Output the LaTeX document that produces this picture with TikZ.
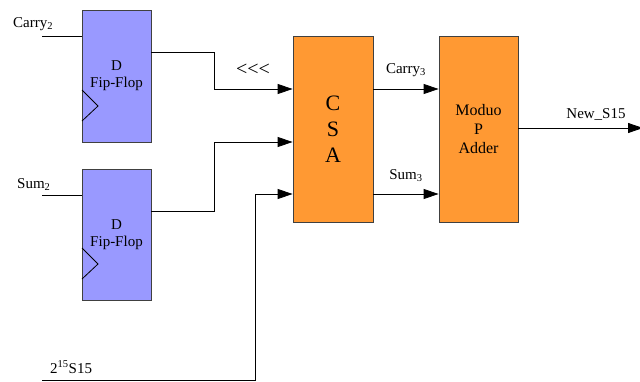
\documentclass[tikz,border=0pt]{standalone}
\usepackage{fontspec}
\setmainfont{Liberation Serif}
\usetikzlibrary{arrows.meta}

\begin{document}
\begin{tikzpicture}[
    x=1pt, y=-1pt,
    wire/.style={thick},
    sig/.style={thick, -{Triangle[length=15pt, width=10pt]}},
    dff/.style={draw=black!75, thick, fill=blue!40, minimum width=69pt, inner sep=0pt,
                font=\fontsize{15}{17}\selectfont, align=center},
    unit/.style={draw=black!75, thick, fill=orange!80, minimum width=80pt, minimum height=186pt,
                 inner sep=0pt, align=center},
    label/.style={font=\fontsize{15}{17}\selectfont, inner sep=0pt}
]
    \useasboundingbox (0,0) rectangle (640,381);

    % Flip-flops
    \node[dff, minimum height=132pt] (ff1) at (116.5,76) {D\\Fip-Flop};
    \node[dff, minimum height=131pt] (ff2) at (116.5,234.5) {D\\Fip-Flop};

    % Clock marks
    \draw[thick] (82,90) -- (98,106) -- (82,121);
    \draw[thick] (82,248) -- (98,264) -- (82,279);

    % Adder blocks
    \node[unit, font=\fontsize{22}{26}\selectfont] (csa) at (333,129) {C\\S\\A};
    \node[unit, minimum width=79pt, font=\fontsize{16}{19}\selectfont] (mpa) at (478.5,129) {Moduo\\P\\Adder};

    % Inputs
    \coordinate (cin) at (42,36);
    \coordinate (sin) at (42,195);
    \coordinate (kin) at (42,380);
    \draw[wire] (cin) -- (cin -| ff1.west);
    \draw[wire] (sin) -- (sin -| ff2.west);
    \node[label, anchor=base west] (carry2) at (13,27) {Carry\textsubscript{2}};
    \node[label, anchor=base west] (sum2) at (17,188) {Sum\textsubscript{2}};
    \node[label, anchor=base west] (kval) at (50,373) {2\textsuperscript{15}S15};

    % Flip-flop outputs into CSA
    \coordinate (c1) at (151,52);
    \coordinate (s1) at (151,211);
    \draw[sig] (c1) -- (214,52) -- (214,89) -- (csa.west |- 0,89);
    \draw[sig] (s1) -- (214,211) -- (214,142) -- (csa.west |- 0,142);
    \draw[sig] (kin) -- (255,380) -- (255,194) -- (csa.west |- 0,194);
    \node[label, font=\fontsize{20}{22}\selectfont] (shift) at (253,70) {<{}<{}<};

    % CSA outputs
    \draw[sig] (csa.east |- 0,89) -- (mpa.west |- 0,89)
        node[label, midway, above=12pt] (carry3) {Carry\textsubscript{3}};
    \draw[sig] (csa.east |- 0,194) -- (mpa.west |- 0,194)
        node[label, midway, above=12pt] (sum3) {Sum\textsubscript{3}};

    % Result
    \draw[sig] (mpa.east |- 0,128) -- (643,128);
    \node[label, anchor=base] (news) at (596,118) {New\_S15};
\end{tikzpicture}
\end{document}
